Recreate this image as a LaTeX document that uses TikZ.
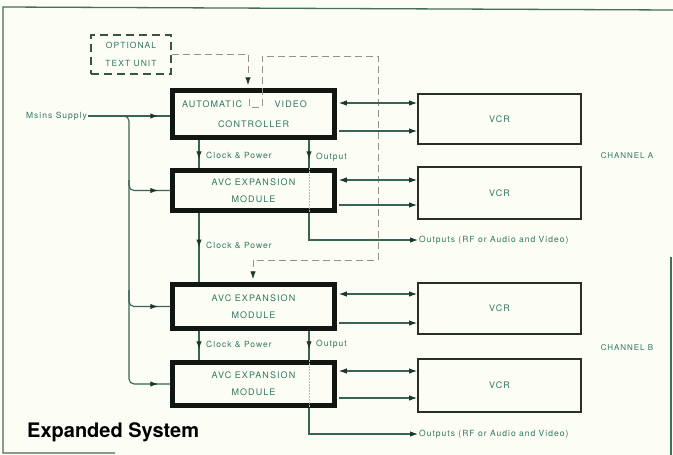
\documentclass[tikz,border=0pt]{standalone}
\usepackage{fontspec}
\usepackage{tikz}
\usetikzlibrary{arrows.meta, decorations.markings}

\newfontfamily\diafont[LetterSpace=12]{TeX Gyre Heros}
\newfontfamily\titlefont{TeX Gyre Heros}

\definecolor{paper}{RGB}{252,253,245}
\definecolor{framecol}{RGB}{70,110,85}
\definecolor{txt}{RGB}{50,118,98}
\definecolor{wire}{RGB}{55,100,85}
\definecolor{arrowcol}{RGB}{30,55,45}
\definecolor{boxblack}{RGB}{18,22,18}
\definecolor{vcrline}{RGB}{40,48,35}
\definecolor{dashgray}{RGB}{140,150,145}
\definecolor{optcol}{RGB}{55,85,70}

\begin{document}
\begin{tikzpicture}[x=1pt, y=-1pt, >={Latex[length=8pt,width=5.5pt,color=arrowcol]},
	modbox/.style={draw=boxblack, line width=4.5pt, minimum width=162pt, minimum height=42pt, align=center, text=txt, font=\diafont\fontsize{9}{17}\selectfont},
	vcrbox/.style={draw=vcrline, line width=1.8pt, minimum width=163pt, minimum height=50pt, text=txt, font=\diafont\fontsize{9}{11}\selectfont},
	conn/.style={color=wire, line width=1.1pt},
	dashline/.style={color=dashgray, line width=1pt, dash pattern=on 7pt off 4pt},
	thru/.style={color=gray!55, line width=0.8pt, dash pattern=on 1.5pt off 1.5pt},
	lbl/.style={text=txt, inner sep=1pt, font=\diafont\fontsize{8.5}{10}\selectfont},
	tipat/.style={postaction={decorate}, decoration={markings, mark=at position #1 with {\arrow{Latex[length=8pt,width=5.5pt,color=arrowcol]}}}}]
	
	% 背景与外框
	\fill[paper] (0,0) rectangle (673,455);
	\useasboundingbox (0,0) rectangle (673,455);
	\draw[framecol, line width=1.3pt] (673,10) -- (3,7) -- (3,453) -- (115,453);
	\draw[framecol, line width=1.3pt] (671,257) -- (671,455);
	
	% 模块
	\node[modbox, minimum height=47pt] (avc) at (253.5,114) {\makebox[143pt][l]{\makebox[125pt][s]{AUTOMATIC\hfill VIDEO}}\\[3pt]CONTROLLER};
	\node[modbox, minimum height=40pt] (expA) at (253.5,190.5) {AVC EXPANSION\\MODULE};
	\node[modbox, minimum height=44pt] (expB) at (253.5,306.5) {AVC EXPANSION\\MODULE};
	\node[modbox, minimum height=43pt] (expC) at (253.5,384) {AVC EXPANSION\\MODULE};
	
	% 录像机
	\node[vcrbox] (vcrA1) at (499.5,119) {VCR};
	\node[vcrbox, minimum height=52pt] (vcrA2) at (499.5,193) {VCR};
	\node[vcrbox, minimum height=51pt] (vcrB1) at (499.5,308.5) {VCR};
	\node[vcrbox, minimum height=53pt] (vcrB2) at (499.5,385.5) {VCR};
	
	% 选件
	\node[draw=optcol, line width=1.6pt, dash pattern=on 8pt off 5pt, minimum width=80pt, minimum height=39pt, align=center, text=txt, font=\diafont\fontsize{8.5}{18}\selectfont] (opt) at (131,54.5) {OPTIONAL\\TEXT UNIT};
	
	% 虚线连接
	\draw[dashline, ->, shorten >=3pt] (opt.east) -| (248,0 |- avc.north);
	\draw[dashline, ->, shorten >=3pt] (249,99) |- (262,107) |- (378,56) -- (378,260) -| (253,0 |- expB.north);
	
	% 电源
	\node[lbl, anchor=east] (mains) at (88,116) {Msins Supply};
	\coordinate (bus) at (129,116);
	\draw[conn, tipat=-12pt] (mains.east) -- (mains.east -| avc.west);
	\draw[conn, rounded corners=5pt, tipat=-12pt] (122,116) -| (bus |- expA.west) -- (expA.west);
	\draw[conn, rounded corners=5pt, tipat=-12pt] (bus |- 0,180) |- (expB.west);
	\draw[conn, rounded corners=5pt, tipat=-12pt] (bus |- 0,290) |- (expC.west);
	
	% 时钟与电源
	\draw[conn, tipat=-9pt] (199,0 |- avc.south) -- (199,0 |- expA.north);
	\node[lbl, anchor=west] (clk1) at (205,155) {Clock \& Power};
	\draw[conn, tipat=0.5] (199,0 |- expA.south) -- (199,0 |- expB.north);
	\node[lbl, anchor=west] (clk2) at (205,245) {Clock \& Power};
	\draw[conn, tipat=-11pt] (199,0 |- expB.south) -- (199,0 |- expC.north);
	\node[lbl, anchor=west] (clk3) at (205,344) {Clock \& Power};
	
	% 输出
	\draw[conn, tipat=-9pt] (309,0 |- avc.south) -- (309,0 |- expA.north);
	\node[lbl, anchor=west] (out1) at (315,157) {Output};
	\draw[thru] (309,0 |- expA.north) -- (309,0 |- expA.south);
	\node[lbl, anchor=west] (outA) at (418,240) {Outputs (RF or Audio and Video)};
	\draw[conn, ->] (309,0 |- expA.south) |- (outA.west);
	
	\draw[conn, tipat=-11pt] (309,0 |- expB.south) -- (309,0 |- expC.north);
	\node[lbl, anchor=west] (out2) at (315,344) {Output};
	\draw[thru] (309,0 |- expC.north) -- (309,0 |- expC.south);
	\node[lbl, anchor=west] (outB) at (418,434) {Outputs (RF or Audio and Video)};
	\draw[conn, ->] (309,0 |- expC.south) |- (outB.west);
	
	% 录像机连线
	\draw[conn, <->, shorten <=2pt] (avc.east |- 0,103) -- (vcrA1.west |- 0,103);
	\draw[conn, ->, shorten <=2pt] (avc.east |- 0,131) -- (vcrA1.west |- 0,131);
	\draw[conn, <->, shorten <=2pt] (expA.east |- 0,180) -- (vcrA2.west |- 0,180);
	\draw[conn, ->, shorten <=2pt] (expA.east |- 0,205) -- (vcrA2.west |- 0,205);
	\draw[conn, <->, shorten <=2pt] (expB.east |- 0,294) -- (vcrB1.west |- 0,294);
	\draw[conn, ->, shorten <=2pt] (expB.east |- 0,323) -- (vcrB1.west |- 0,323);
	\draw[conn, <->, shorten <=2pt] (expC.east |- 0,371) -- (vcrB2.west |- 0,371);
	\draw[conn, ->, shorten <=2pt] (expC.east |- 0,398) -- (vcrB2.west |- 0,398);
	
	% 通道标注
	\node[lbl, font=\diafont\fontsize{8}{10}\selectfont] (chA) at (627,156) {CHANNEL A};
	\node[lbl, font=\diafont\fontsize{8}{10}\selectfont] (chB) at (627,348) {CHANNEL B};
	
	% 标题
	\node[anchor=west, inner sep=0pt, font=\titlefont\bfseries\fontsize{20}{24}\selectfont] (title) at (27,432) {Expanded System};
\end{tikzpicture}
\end{document}
